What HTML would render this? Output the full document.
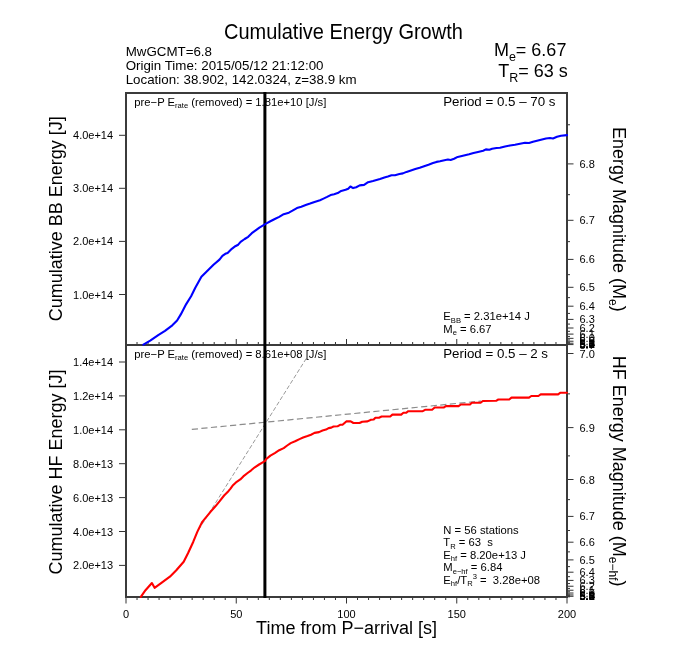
<!DOCTYPE html>
<html><head><meta charset="utf-8"><title>Cumulative Energy Growth</title>
<style>
html,body{margin:0;padding:0;background:#fff;}
svg{display:block;will-change:transform;}
svg text{font-family:"Liberation Sans", sans-serif;fill:#000;white-space:pre;}
</style></head>
<body>
<svg width="680" height="660" viewBox="0 0 680 660">
<rect x="0" y="0" width="680" height="660" fill="#fff"/>
<path d="M126 598V603.5M137.03 598V600M137.03 344V342M148.05 598V600M148.05 344V342M159.07 598V600M159.07 344V342M170.1 598V600M170.1 344V342M181.12 598V600M181.12 344V342M192.15 598V600M192.15 344V342M203.18 598V600M203.18 344V342M214.2 598V600M214.2 344V342M225.22 598V600M225.22 344V342M236.25 598V603.5M236.25 344V339M247.28 598V600M247.28 344V342M258.3 598V600M258.3 344V342M269.32 598V600M269.32 344V342M280.35 598V600M280.35 344V342M291.38 598V600M291.38 344V342M302.4 598V600M302.4 344V342M313.43 598V600M313.43 344V342M324.45 598V600M324.45 344V342M335.48 598V600M335.48 344V342M346.5 598V603.5M346.5 344V339M357.52 598V600M357.52 344V342M368.55 598V600M368.55 344V342M379.57 598V600M379.57 344V342M390.6 598V600M390.6 344V342M401.62 598V600M401.62 344V342M412.65 598V600M412.65 344V342M423.68 598V600M423.68 344V342M434.7 598V600M434.7 344V342M445.73 598V600M445.73 344V342M456.75 598V603.5M456.75 344V339M467.77 598V600M467.77 344V342M478.8 598V600M478.8 344V342M489.82 598V600M489.82 344V342M500.85 598V600M500.85 344V342M511.88 598V600M511.88 344V342M522.9 598V600M522.9 344V342M533.92 598V600M533.92 344V342M544.95 598V600M544.95 344V342M555.98 598V600M555.98 344V342M567 598V603.5" stroke="#333" stroke-width="1" fill="none"/>
<path d="M119 135.3H125M119 188.3H125M119 241.4H125M119 294.5H125M119 362H125M119 395.9H125M119 429.8H125M119 463.7H125M119 497.6H125M119 531.5H125M119 565.4H125" stroke="#333" stroke-width="1" fill="none"/>
<path d="M568 124.76H570M568 163.9H573.5M568 194.68H570M568 220.3H573.5M568 241.64H570M568 259.4H573.5M568 274.67H570M568 287.3H573.5M568 297.64H570M568 306.2H573.5M568 313.43H570M568 319.4H573.5M568 324.09H570M568 328H573.5M568 331.33H570M568 334.1H573.5M568 336.43H570M568 338.33H573.5M568 339.91H570M568 341.23H573.5M568 342.31H570M568 343.22H573.5M568 343.96H570M568 344.58H573.5M568 353.5H573.5M568 393.86H570M568 427.6H573.5M568 455.88H570M568 479.5H573.5M568 499.64H570M568 516.4H573.5M568 530.5H570M568 542.2H573.5M568 551.87H570M568 559.9H573.5M568 566.62H570M568 572.2H573.5M568 576.67H570M568 580.4H573.5M568 583.58H570M568 586.22H573.5M568 588.42H570M568 590.24H573.5M568 591.77H570M568 593.03H573.5M568 594.08H570M568 594.96H573.5M568 595.69H570M568 596.3H573.5M568 596.8H570" stroke="#333" stroke-width="1" fill="none"/>
<rect x="126" y="93" width="441" height="504" fill="none" stroke="#3b3b3b" stroke-width="2"/>
<line x1="125" y1="345" x2="568" y2="345" stroke="#3b3b3b" stroke-width="2"/>
<line x1="191.8" y1="429.4" x2="481" y2="401.06" stroke="#8c8c8c" stroke-width="1.2" stroke-dasharray="6.2 3.4"/>
<line x1="198.52" y1="530" x2="306.56" y2="358" stroke="#999" stroke-width="1" stroke-dasharray="4.2 2.2"/>
<line x1="264.9" y1="92" x2="264.9" y2="598" stroke="#000" stroke-width="3"/>
<polyline points="143.4,344.7 150.2,340.6 158.6,334.8 165,330.8 172.3,325.3 177.1,320.5 180.8,314.4 186.2,304.1 191.1,296.2 195.3,287.7 201.4,276.8 206.2,272 213.5,264.7 219.5,259.6 222.4,255.9 225.3,253.8 227.6,252.9 231.8,248.8 235.3,246.2 238.2,244.7 240.6,241.8 244.7,239 248.2,236.8 251.8,233.2 255.3,230.6 259.4,227.6 262.7,225.7 266,223.6 270.4,221.3 274.8,219 279.2,216.9 283.7,214.2 288.9,212.7 292.5,210.7 296.9,208.1 301.3,206.7 305.7,205.1 310.1,203.6 314.5,201.9 320,200.2 323.5,198.6 327.1,196.9 330.6,195.1 334.1,194.2 337.7,193.1 341.2,190.9 345.6,189.8 348.2,188.7 350.4,186.5 353.1,188.1 356.2,187.2 359.7,185.4 364.1,184.9 368.1,182.2 373,181 380,179.1 384.4,177.5 387.9,176.5 391.5,175.2 395,175.2 399.4,174 402.9,173.4 406.5,171.9 410.9,170.5 415.3,169 419.7,167.7 424.1,166.2 428.5,164.8 433,163.1 436.5,161.9 440,161.3 444.4,160.2 447.9,159.5 450.6,160 454.1,158.7 457.7,156.9 462.9,155.7 469.1,154.2 473.5,152.9 478,151.9 483.2,150.7 485.9,149.4 489.4,149.7 492.1,148.7 496.5,148 500,147.8 505,146.5 510,145.5 515,144.8 520,143.8 525,142.8 529,143 533,141.8 538,140.5 542,139.5 546,138.5 550,138 553,138.5 557,136.8 561,135.8 567,135.1" fill="none" stroke="#0000ff" stroke-width="2.1" stroke-linejoin="round" stroke-linecap="round"/>
<polyline points="140.8,596.8 145.5,590.2 151.9,583 154.6,587.8 160.4,583.6 169.9,576.7 176.3,570.3 183.7,561.8 188,553.3 193.3,541.7 197.2,532.1 198.6,529.1 202.3,521.8 206.8,516.4 210.5,511.8 215,506.8 219.5,501.4 224.1,495.5 228.6,490.9 230.5,488.6 233,485.2 236.7,481.8 240.3,479.4 243.3,476.4 247.6,473 251.2,470.3 254.8,467.3 259.1,464.5 262.7,462.4 265.2,460.9 266,459.3 270.4,455.6 274.8,453.1 279.2,450.2 283.7,448.1 287.2,445.5 290.7,443.1 295.1,441.3 299.5,439.1 303.1,437.5 307.5,436 311,434.7 314.5,432.9 319,432.1 322.5,430.5 326,429.6 328.6,428.1 331.3,427.6 333.5,426.5 337.5,426.3 340.1,424.8 342.8,424.6 346.3,421.4 350.7,421.4 353.4,423 359.5,423 362.2,421.7 367.5,421.4 371,419.7 373.7,419.5 375.4,417.7 379,417.7 381.6,416.5 390.2,416.5 392.4,414.6 401.2,414.6 403.4,412.8 406.1,412.8 408.3,411.2 422.8,411.2 425.5,409.7 432.1,409.7 434.7,407.5 444,407.4 445.8,406.1 458.6,406.1 460.8,404.5 470,404.5 471.8,402.8 480.6,402.8 482.8,401 496.1,400.8 498.3,399.5 509.2,399.5 511.5,397.6 529,397.6 531.3,396 538.4,396 540.7,394.4 558.1,394.4 560.5,392.7 567,392.7" fill="none" stroke="#ff0000" stroke-width="2.1" stroke-linejoin="round" stroke-linecap="round"/>
<text x="126" y="617.8" font-size="11" text-anchor="middle">0</text>
<text x="236.25" y="617.8" font-size="11" text-anchor="middle">50</text>
<text x="346.5" y="617.8" font-size="11" text-anchor="middle">100</text>
<text x="456.75" y="617.8" font-size="11" text-anchor="middle">150</text>
<text x="567" y="617.8" font-size="11" text-anchor="middle">200</text>
<text x="113.1" y="139.3" font-size="11" text-anchor="end">4.0e+14</text>
<text x="113.1" y="192.3" font-size="11" text-anchor="end">3.0e+14</text>
<text x="113.1" y="245.4" font-size="11" text-anchor="end">2.0e+14</text>
<text x="113.1" y="298.5" font-size="11" text-anchor="end">1.0e+14</text>
<text x="113.1" y="366" font-size="11" text-anchor="end">1.4e+14</text>
<text x="113.1" y="399.9" font-size="11" text-anchor="end">1.2e+14</text>
<text x="113.1" y="433.8" font-size="11" text-anchor="end">1.0e+14</text>
<text x="113.1" y="467.7" font-size="11" text-anchor="end">8.0e+13</text>
<text x="113.1" y="501.6" font-size="11" text-anchor="end">6.0e+13</text>
<text x="113.1" y="535.5" font-size="11" text-anchor="end">4.0e+13</text>
<text x="113.1" y="569.4" font-size="11" text-anchor="end">2.0e+13</text>
<text x="579.5" y="167.9" font-size="11" text-anchor="start">6.8</text>
<text x="579.5" y="224.3" font-size="11" text-anchor="start">6.7</text>
<text x="579.5" y="263.4" font-size="11" text-anchor="start">6.6</text>
<text x="579.5" y="291.3" font-size="11" text-anchor="start">6.5</text>
<text x="579.5" y="310.2" font-size="11" text-anchor="start">6.4</text>
<text x="579.5" y="323.4" font-size="11" text-anchor="start">6.3</text>
<text x="579.5" y="332" font-size="11" text-anchor="start">6.2</text>
<text x="579.5" y="338.1" font-size="11" text-anchor="start">6.1</text>
<text x="579.5" y="342.33" font-size="11" text-anchor="start">6.0</text>
<text x="579.5" y="345.23" font-size="11" text-anchor="start">5.9</text>
<text x="579.5" y="347.22" font-size="11" text-anchor="start">5.8</text>
<text x="579.5" y="348.58" font-size="11" text-anchor="start">5.7</text>
<text x="579.5" y="357.5" font-size="11" text-anchor="start">7.0</text>
<text x="579.5" y="431.6" font-size="11" text-anchor="start">6.9</text>
<text x="579.5" y="483.5" font-size="11" text-anchor="start">6.8</text>
<text x="579.5" y="520.4" font-size="11" text-anchor="start">6.7</text>
<text x="579.5" y="546.2" font-size="11" text-anchor="start">6.6</text>
<text x="579.5" y="563.9" font-size="11" text-anchor="start">6.5</text>
<text x="579.5" y="576.2" font-size="11" text-anchor="start">6.4</text>
<text x="579.5" y="584.4" font-size="11" text-anchor="start">6.3</text>
<text x="579.5" y="590.22" font-size="11" text-anchor="start">6.2</text>
<text x="579.5" y="594.24" font-size="11" text-anchor="start">6.1</text>
<text x="579.5" y="597.03" font-size="11" text-anchor="start">6.0</text>
<text x="579.5" y="598.96" font-size="11" text-anchor="start">5.9</text>
<text x="579.5" y="600.3" font-size="11" text-anchor="start">5.8</text>
<text x="579.5" y="348.4" font-size="11" text-anchor="start">5.5</text>
<text x="579.5" y="348.4" font-size="11" text-anchor="start">5.4</text>
<text x="579.5" y="348.4" font-size="11" text-anchor="start">5.3</text>
<text x="579.5" y="348.4" font-size="11" text-anchor="start">5.2</text>
<text x="579.5" y="348.4" font-size="11" text-anchor="start">5.1</text>
<text x="579.5" y="348.4" font-size="11" text-anchor="start">5.0</text>
<text x="579.5" y="600.4" font-size="11" text-anchor="start">5.5</text>
<text x="579.5" y="600.4" font-size="11" text-anchor="start">5.4</text>
<text x="579.5" y="600.4" font-size="11" text-anchor="start">5.3</text>
<text x="579.5" y="600.4" font-size="11" text-anchor="start">5.2</text>
<text x="579.5" y="600.4" font-size="11" text-anchor="start">5.1</text>
<text x="579.5" y="600.4" font-size="11" text-anchor="start">5.0</text>
<text x="224" y="39.2" font-size="20" text-anchor="start" transform="translate(0 39.2) scale(1 1.06) translate(0 -39.2)">Cumulative Energy Growth</text>
<text x="125.7" y="56.2" font-size="13.33" text-anchor="start">MwGCMT=6.8</text>
<text x="125.7" y="70.1" font-size="13.33" text-anchor="start">Origin Time: 2015/05/12 21:12:00</text>
<text x="125.7" y="84.1" font-size="13.33" text-anchor="start">Location: 38.902, 142.0324, z=38.9 km</text>
<text x="566.4" y="56.2" font-size="18" text-anchor="end">M<tspan font-size="12.5" dy="4.6">e</tspan><tspan dy="-4.6">= 6.67</tspan></text>
<text x="567.8" y="77.4" font-size="18" text-anchor="end">T<tspan font-size="12.5" dy="4.6">R</tspan><tspan dy="-4.6">= 63 s</tspan></text>
<text x="134.3" y="105.6" font-size="11.25">pre−P E<tspan font-size="7.6" dy="2.8">rate</tspan><tspan dy="-2.8"> (removed) = 1.81e+10 [J/s]</tspan></text>
<text x="134.3" y="357.6" font-size="11.25">pre−P E<tspan font-size="7.6" dy="2.8">rate</tspan><tspan dy="-2.8"> (removed) = 8.61e+08 [J/s]</tspan></text>
<text x="443.2" y="105.8" font-size="13.33" text-anchor="start">Period = 0.5 – 70 s</text>
<text x="443.2" y="357.8" font-size="13.33" text-anchor="start">Period = 0.5 – 2 s</text>
<text x="443.3" y="320" font-size="11.25">E<tspan font-size="7.6" dy="2.8">BB</tspan><tspan dy="-2.8"> = 2.31e+14 J</tspan></text>
<text x="443.3" y="332.5" font-size="11.25">M<tspan font-size="7.6" dy="2.8">e</tspan><tspan dy="-2.8"> = 6.67</tspan></text>
<text x="443.3" y="533.9" font-size="11.25">N = 56 stations</text>
<text x="443.3" y="546" font-size="11.25">T<tspan font-size="7.6" dy="2.8">R</tspan><tspan dy="-2.8"> = 63  s</tspan></text>
<text x="443.3" y="558.6" font-size="11.25">E<tspan font-size="7.6" dy="2.8">hf</tspan><tspan dy="-2.8"> = 8.20e+13 J</tspan></text>
<text x="443.3" y="571" font-size="11.25">M<tspan font-size="7.6" dy="2.8">e−hf</tspan><tspan dy="-2.8"> = 6.84</tspan></text>
<text x="443.3" y="583.6" font-size="11.25">E<tspan font-size="7.6" dy="2.8">hf</tspan><tspan dy="-2.8">/T</tspan><tspan font-size="7.6" dy="2.8">R</tspan><tspan font-size="7.6" dy="-7">3</tspan><tspan dy="4.2"> =  3.28e+08</tspan></text>
<text x="346.5" y="633.9" font-size="18" text-anchor="middle">Time from P−arrival [s]</text>
<text transform="translate(62.4 218.8) rotate(-90) scale(1 1.04)" font-size="18" text-anchor="middle">Cumulative BB Energy [J]</text>
<text transform="translate(62.4 472) rotate(-90) scale(1 1.04)" font-size="18" text-anchor="middle">Cumulative HF Energy [J]</text>
<text transform="translate(613 219.4) rotate(90)" font-size="18" text-anchor="middle">Energy Magnitude (M<tspan font-size="12" dy="4.5">e</tspan><tspan dy="-4.5">)</tspan></text>
<text transform="translate(613 471.1) rotate(90)" font-size="18" text-anchor="middle">HF Energy Magnitude (M<tspan font-size="12" dy="4.5">e−hf</tspan><tspan dy="-4.5">)</tspan></text>
</svg>
</body></html>
